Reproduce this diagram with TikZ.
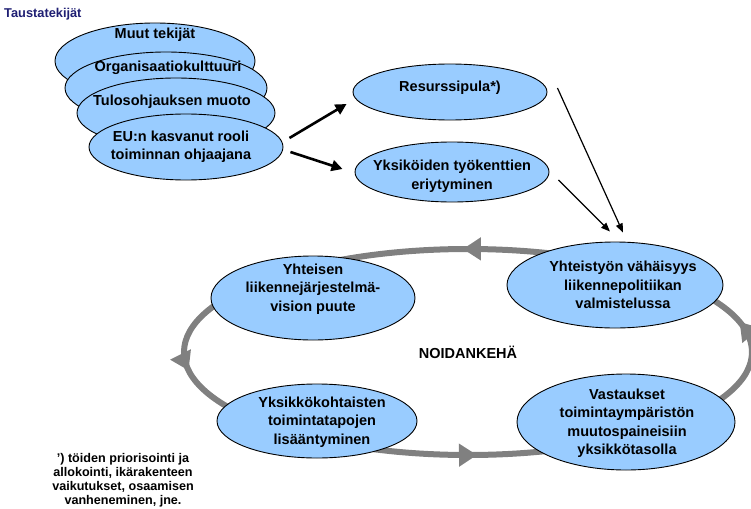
\documentclass[tikz,border=0pt]{standalone}
\usepackage{fontspec}
\setmainfont{Liberation Sans}
\usetikzlibrary{shapes.geometric,arrows.meta,decorations.markings,calc}
\definecolor{bubblefill}{RGB}{153,204,255}
\definecolor{ringgray}{RGB}{128,128,128}
\definecolor{headnavy}{RGB}{31,31,115}

\tikzset{ringtip/.tip={Triangle[length=18pt,width=22pt]}}

\begin{document}
\begin{tikzpicture}[x=1pt,y=-1pt,
  bubble/.style={ellipse, draw=black, line width=0.9pt, fill=bubblefill, inner sep=0pt},
  txt/.style={align=center, inner sep=0pt, font=\bfseries\fontsize{14.5}{18.5}\selectfont},
  smalltxt/.style={align=center, inner sep=0pt, font=\bfseries\fontsize{12.6}{14}\selectfont},
  boldarrow/.style={line width=2.6pt, -{Triangle[length=11pt,width=11pt]}},
  thinarrow/.style={line width=1.2pt, -{Triangle[length=9pt,width=7pt]}},
  ring/.style={draw=ringgray, line width=6pt,
    postaction={decorate, decoration={markings,
      mark=at position 0.026 with {\arrow[ringgray]{ringtip}},
      mark=at position 0.254 with {\arrow[ringgray]{ringtip}},
      mark=at position 0.515 with {\arrow[ringgray]{ringtip}},
      mark=at position 0.757 with {\arrow[ringgray]{ringtip}}}}}
]
\useasboundingbox (0,0) rectangle (751,508);

% heading
\node[anchor=west, inner sep=0pt, text=headnavy,
      font=\bfseries\fontsize{12.8}{15}\selectfont] (head) at (4,14) {Taustatekijät};

% stacked background factors, back to front
\node[bubble, minimum width=200pt, minimum height=76pt] (b1) at (155,61) {};
\node[txt] (b1t) at (155,35) {Muut tekijät};
\node[bubble, minimum width=202pt, minimum height=72pt] (b2) at (166,88) {};
\node[txt] (b2t) at (168,68) {Organisaatiokulttuuri};
\node[bubble, minimum width=198pt, minimum height=70pt] (b3) at (176,113) {};
\node[txt] (b3t) at (172,102) {Tulosohjauksen muoto};
\node[bubble, minimum width=194pt, minimum height=66pt] (b4) at (186,147) {};
\node[txt] (b4t) at (181,147) {EU:n kasvanut rooli\\toiminnan ohjaajana};

% consequences
\node[bubble, minimum width=194pt, minimum height=56pt] (res) at (450,92) {};
\node[txt] (rest) at (450,88) {Resurssipula*)};
\node[bubble, minimum width=194pt, minimum height=60pt] (yks) at (452,172) {};
\node[txt] (ykst) at (452,176) {Yksiköiden työkenttien\\eriytyminen};

% vicious circle
\draw[ring] (752,352) arc[start angle=0, end angle=-360, x radius=284, y radius=103];

\node[bubble, minimum width=204pt, minimum height=84pt] (yv) at (313,298) {};
\node[txt] (yvt) at (313,289) {Yhteisen\\liikennejärjestelmä-\\vision puute};
\node[bubble, minimum width=216pt, minimum height=86pt] (yt) at (615,285) {};
\node[txt] (ytt) at (623,285) {Yhteistyön vähäisyys\\liikennepolitiikan\\valmistelussa};
\node[bubble, minimum width=200pt, minimum height=74pt] (yk) at (317,421) {};
\node[txt] (ykt) at (322,422) {Yksikkökohtaisten\\toimintatapojen\\lisääntyminen};
\node[bubble, minimum width=218pt, minimum height=96pt] (va) at (626,422) {};
\node[txt] (vat) at (627,423) {Vastaukset\\toimintaympäristön\\muutospaineisiin\\yksikkötasolla};

\node[txt] (noid) at (468,352) {NOIDANKEHÄ};

% footnote
\node[smalltxt] (note) at (123,480) {') töiden priorisointi ja\\allokointi, ikärakenteen\\vaikutukset, osaamisen\\vanheneminen, jne.};

% influences
\draw[boldarrow] ($(b4.east)+(6,-9)$) -- ($(res.west)+(-6,12)$);
\draw[boldarrow] ($(b4.east)+(7,5)$) -- ($(yks.west)+(-12,-3)$);
\draw[thinarrow] ($(res.east)+(10,-4)$) -- ($(yt.north)+(8,-9)$);
\draw[thinarrow] ($(yks.east)+(9,8)$) -- ($(yt.north)+(-5,-10)$);
\end{tikzpicture}
\end{document}
